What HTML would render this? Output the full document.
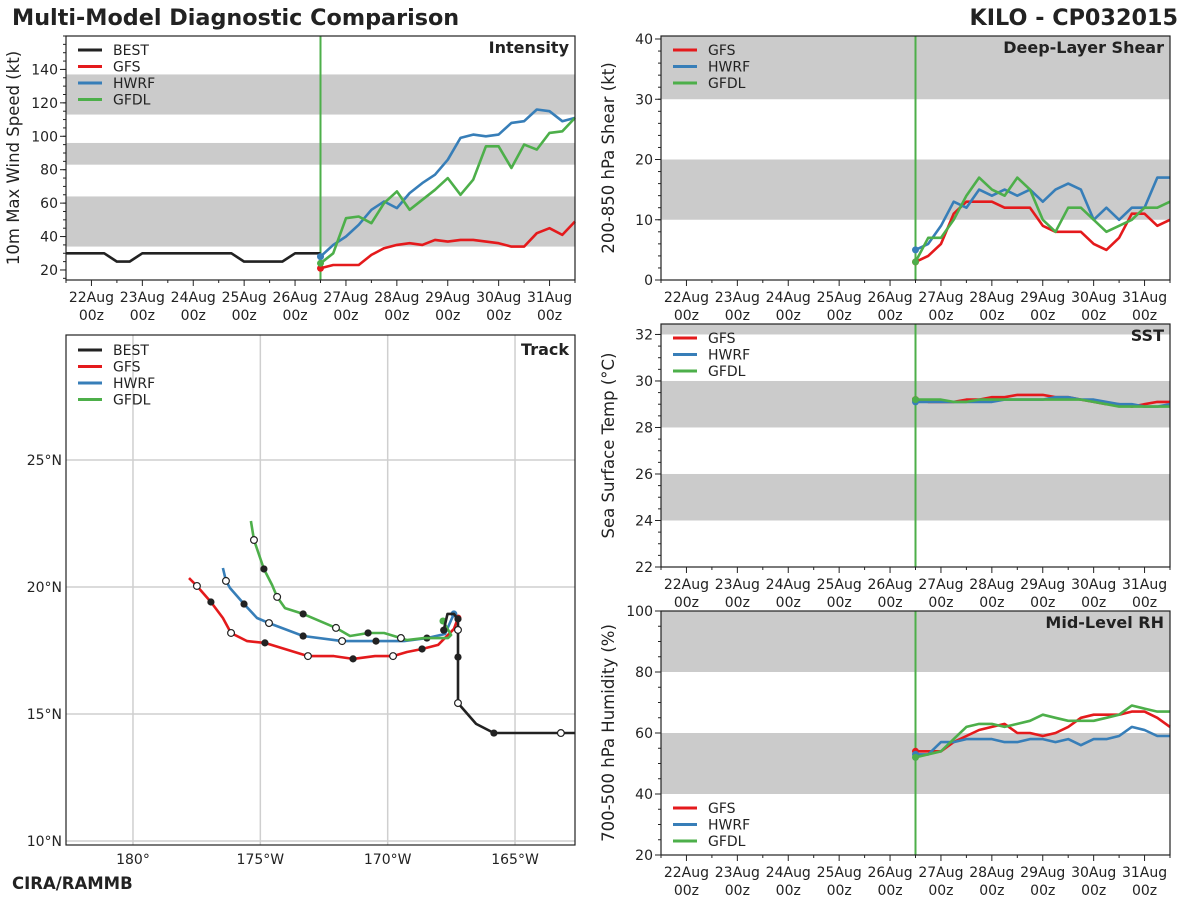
<!DOCTYPE html>
<html><head><meta charset="utf-8">
<style>
html,body{margin:0;padding:0;background:#fff;}
body{width:1200px;height:900px;overflow:hidden;font-family:"DejaVu Sans","Liberation Sans",sans-serif;}
svg text{font-family:"DejaVu Sans","Liberation Sans",sans-serif;}
</style></head>
<body>
<svg id="fig" width="1200" height="900" viewBox="0 0 1200 900" xmlns="http://www.w3.org/2000/svg">
<text x="12" y="25" font-size="22.3" font-weight="bold" fill="#222">Multi-Model Diagnostic Comparison</text>
<text x="1178" y="25" font-size="22.3" font-weight="bold" fill="#222" text-anchor="end">KILO - CP032015</text>
<text x="12" y="889" font-size="16.5" font-weight="bold" fill="#222">CIRA/RAMMB</text>
</svg>
<script>
// ---- data ----
const bestTimes = [21.5,21.75,22,22.25,22.5,22.75,23,23.25,23.5,23.75,24,24.25,24.5,24.75,25,25.25,25.5,25.75,26,26.25,26.5];
const bestVmax = [30,30,30,30,25,25,30,30,30,30,30,30,30,30,25,25,25,25,30,30,30];
const fcstTimes = [26.5,26.75,27,27.25,27.5,27.75,28,28.25,28.5,28.75,29,29.25,29.5,29.75,30,30.25,30.5,30.75,31,31.25,31.5];
const gfsVmax = [21,23,23,23,29,33,35,36,35,38,37,38,38,37,36,34,34,42,45,41,49];
const hwrfVmax = [28,35,40,47,56,61,57,66,72,77,86,99,101,100,101,108,109,116,115,109,111];
const gfdlVmax = [24,30,51,52,48,60,67,56,62,68,75,65,74,94,94,81,95,92,102,103,111];
const gfsShear = [3,4,6,11,13,13,13,12,12,12,9,8,8,8,6,5,7,11,11,9,10];
const hwrfShear = [5,6,9,13,12,15,14,15,14,15,13,15,16,15,10,12,10,12,12,17,17];
const gfdlShear = [3,7,7,10,14,17,15,14,17,15,10,8,12,12,10,8,9,10,12,12,13];
const gfsSst = [29.2,29.1,29.1,29.1,29.2,29.2,29.3,29.3,29.4,29.4,29.4,29.3,29.3,29.2,29.1,29.0,29.0,28.9,29.0,29.1,29.1];
const hwrfSst = [29.1,29.1,29.1,29.1,29.1,29.1,29.1,29.2,29.2,29.2,29.2,29.3,29.3,29.2,29.2,29.1,29.0,29.0,28.9,28.9,29.0];
const gfdlSst = [29.2,29.2,29.2,29.1,29.1,29.2,29.2,29.2,29.2,29.2,29.2,29.2,29.2,29.2,29.1,29.0,28.9,28.9,28.9,28.9,28.9];
const gfsRh = [54,54,54,57,59,61,62,63,60,60,59,60,62,65,66,66,66,67,67,65,62];
const hwrfRh = [53,53,57,57,58,58,58,57,57,58,58,57,58,56,58,58,59,62,61,59,59];
const gfdlRh = [52,53,54,58,62,63,63,62,63,64,66,65,64,64,64,65,66,69,68,67,67];
const dayTicks = [22,23,24,25,26,27,28,29,30,31];
const dayLabels = ["22Aug","23Aug","24Aug","25Aug","26Aug","27Aug","28Aug","29Aug","30Aug","31Aug"];
// track (degrees W, degrees N)
const bestLon = [162.65,163.2,165.83,166.53,167.24,167.24,167.24,167.24,167.4,167.65,167.8];
const bestLat = [14.25,14.25,14.25,14.61,15.43,17.24,18.31,18.74,18.94,18.94,18.3];
const gfsLon = [167.24,167.40,168.02,168.65,169.24,169.79,170.50,171.36,172.11,173.13,174.82,175.52,176.15,176.47,176.94,177.49,177.80];
const gfsLat = [18.78,18.35,17.72,17.56,17.44,17.28,17.28,17.17,17.28,17.28,17.80,17.87,18.19,18.78,19.41,20.04,20.35];
const hwrfLon = [167.40,167.75,168.46,169.36,170.46,171.79,173.32,174.66,175.13,175.64,176.19,176.35,176.47];
const hwrfLat = [18.94,18.15,17.99,17.87,17.87,17.87,18.07,18.58,18.78,19.33,19.96,20.24,20.75];
const gfdlLon = [167.83,167.51,167.63,168.57,169.24,169.48,170.14,170.77,171.48,172.03,173.32,174.03,174.34,174.54,174.86,175.25,175.37];
const gfdlLat = [18.66,18.11,17.99,17.99,17.91,17.99,18.19,18.19,18.07,18.39,18.94,19.17,19.61,20.08,20.71,21.85,22.60];
const lonTicks = [180,175,170,165];
const lonLabels = ["180°","175°W","170°W","165°W"];
const latTicks = [10,15,20,25];
const latLabels = ["10°N","15°N","20°N","25°N"];

const NS="http://www.w3.org/2000/svg";
const svg=document.getElementById('fig');
const C={best:"#222222",gfs:"#e41a1c",hwrf:"#377eb8",gfdl:"#4daf4a"};
function mk(tag,attrs,parent){const e=document.createElementNS(NS,tag);for(const k in attrs)e.setAttribute(k,attrs[k]);(parent||svg).appendChild(e);return e;}

function timePanel(o){
  const g=mk('g',{});
  
  
  const X=t=>o.x0+(t-21.5)/10*(o.x1-o.x0);
  const Y=v=>o.y1-(v-o.ymin)/(o.ymax-o.ymin)*(o.y1-o.y0);
  o.bands.forEach(b=>{const r=mk('rect',{x:o.x0,y:Y(Math.min(b[1],o.ymax)),width:o.x1-o.x0,height:Y(b[0])-Y(Math.min(b[1],o.ymax)),fill:"#cbcbcb"},g);
    });
  for(let t=21.5;t<=31.51;t+=0.5){const maj=Math.abs(t-Math.round(t))<1e-6;
    mk('line',{x1:X(t),x2:X(t),y1:o.y1,y2:o.y1+(maj?6:3),stroke:"#222","stroke-width":1},g);}
  dayTicks.forEach((d,i)=>{
    const t1=mk('text',{x:X(d),y:o.y1+22,"font-size":14,"text-anchor":"middle",fill:"#222"},g);t1.textContent=dayLabels[i];
    
    const t2=mk('text',{x:X(d),y:o.y1+40,"font-size":14,"text-anchor":"middle",fill:"#222"},g);t2.textContent="00z";
    });
  for(let v=Math.ceil(o.ymin/o.minor)*o.minor;v<=o.ymax+1e-6;v+=o.minor){
    mk('line',{x1:o.x0-3,x2:o.x0,y1:Y(v),y2:Y(v),stroke:"#222"},g);}
  o.yticks.forEach(v=>{mk('line',{x1:o.x0-6,x2:o.x0,y1:Y(v),y2:Y(v),stroke:"#222"},g);
    const t=mk('text',{x:o.x0-8,y:Y(v)+5,"font-size":14,"text-anchor":"end",fill:"#222"},g);t.textContent=v;
    });
  const yl=mk('text',{x:0,y:0,"font-size":16.5,"text-anchor":"middle",fill:"#222",transform:`translate(${o.x0-47},${(o.y0+o.y1)/2}) rotate(-90)`},g);
  yl.textContent=o.ylabel;
  mk('line',{x1:X(26.5),x2:X(26.5),y1:o.y0,y2:o.y1,stroke:C.gfdl,"stroke-width":2},g);
  o.series.forEach(s=>{
    const pts=s.v.map((v,i)=>X(s.t[i]).toFixed(1)+","+Y(v).toFixed(1)).join(" ");
    const p=mk('polyline',{points:pts,fill:"none",stroke:s.c,"stroke-width":2.6,"stroke-linejoin":"round"},g);
    
    if(s.dot){mk('circle',{cx:X(s.t[0]),cy:Y(s.v[0]),r:3.5,fill:s.c},g);}
  });
  mk('rect',{x:o.x0,y:o.y0,width:o.x1-o.x0,height:o.y1-o.y0,fill:"none",stroke:"#222","stroke-width":1.2},g);
  const tt=mk('text',{x:o.x1-6,y:o.y0+17,"font-size":16,"font-weight":"bold","text-anchor":"end",fill:"#222"},g);
  tt.textContent=o.title;
  legend(g,o.lx,o.ly,o.leg);
}
function legend(g,x,y,items){
  const lg=mk('g',{},g);
  
  items.forEach((it,i)=>{const yy=y+i*16.5;
    mk('line',{x1:x,x2:x+24,y1:yy,y2:yy,stroke:it[1],"stroke-width":3},lg);
    const t=mk('text',{x:x+35,y:yy+5,"font-size":14,fill:"#222"},lg);t.textContent=it[0];
    });
}
const L4=[["BEST",C.best],["GFS",C.gfs],["HWRF",C.hwrf],["GFDL",C.gfdl]];
const L3=[["GFS",C.gfs],["HWRF",C.hwrf],["GFDL",C.gfdl]];
function S3(a,b,c){return [{n:'gfs',t:fcstTimes,v:a,c:C.gfs,dot:1},{n:'hwrf',t:fcstTimes,v:b,c:C.hwrf,dot:1},{n:'gfdl',t:fcstTimes,v:c,c:C.gfdl,dot:1}];}

timePanel({name:'intensity-panel',x0:66,x1:575,y0:36,y1:280,ymin:14,ymax:160,minor:5,yticks:[20,40,60,80,100,120,140],
  bands:[[34,64],[83,96],[113,137]],ylabel:"10m Max Wind Speed (kt)",title:"Intensity",lx:78,ly:50,leg:L4,
  series:[{n:'best',t:bestTimes,v:bestVmax,c:C.best}].concat(S3(gfsVmax,hwrfVmax,gfdlVmax))});
timePanel({name:'shear-panel',x0:661,x1:1170,y0:36,y1:280,ymin:0,ymax:40.5,minor:2,yticks:[0,10,20,30,40],
  bands:[[10,20],[30,40.5]],ylabel:"200-850 hPa Shear (kt)",title:"Deep-Layer Shear",lx:673,ly:50,leg:L3,
  series:S3(gfsShear,hwrfShear,gfdlShear)});
timePanel({name:'sst-panel',x0:661,x1:1170,y0:324,y1:567,ymin:22,ymax:32.45,minor:0.5,yticks:[22,24,26,28,30,32],
  bands:[[24,26],[28,30],[32,32.45]],ylabel:"Sea Surface Temp (°C)",title:"SST",lx:673,ly:338,leg:L3,
  series:S3(gfsSst,hwrfSst,gfdlSst)});
timePanel({name:'rh-panel',x0:661,x1:1170,y0:611,y1:855,ymin:20,ymax:100,minor:5,yticks:[20,40,60,80,100],
  bands:[[40,60],[80,100]],ylabel:"700-500 hPa Humidity (%)",title:"Mid-Level RH",lx:673,ly:808,leg:L3,
  series:S3(gfsRh,hwrfRh,gfdlRh)});

(function(){
  const x0=66,x1=575,y0=335,y1=845;
  const g=mk('g',{});
  
  
  const X=lw=>x0+(182.63-lw)*25.47;
  const Y=la=>841-(la-10)*25.4;
  lonTicks.forEach((l,i)=>{mk('line',{x1:X(l),x2:X(l),y1:y0,y2:y1,stroke:"#cfcfcf","stroke-width":1.5},g);
    const t=mk('text',{x:X(l),y:y1+19,"font-size":14,"text-anchor":"middle",fill:"#222"},g);t.textContent=lonLabels[i];
    });
  latTicks.forEach((l,i)=>{mk('line',{x1:x0,x2:x1,y1:Y(l),y2:Y(l),stroke:"#cfcfcf","stroke-width":1.5},g);
    const t=mk('text',{x:x0-4,y:Y(l)+5,"font-size":14,"text-anchor":"end",fill:"#222"},g);t.textContent=latLabels[i];
    });
  const tr=[
    {n:'gfs',lo:gfsLon,la:gfsLat,c:C.gfs,open:[5,9,12,15],fill:[3,7,10,14]},
    {n:'hwrf',lo:hwrfLon,la:hwrfLat,c:C.hwrf,open:[5,7,11],fill:[2,4,6,9]},
    {n:'gfdl',lo:gfdlLon,la:gfdlLat,c:C.gfdl,open:[5,9,12,15],fill:[7,10,14]},
    {n:'best',lo:bestLon,la:bestLat,c:C.best,open:[1,4,6],fill:[2,5,7,10]}];
  tr.forEach(s=>{
    const pts=s.lo.map((v,i)=>X(v).toFixed(1)+","+Y(s.la[i]).toFixed(1)).join(" ");
    const p=mk('polyline',{points:pts,fill:"none",stroke:s.c,"stroke-width":2.6,"stroke-linejoin":"round"},g);
    
    if(s.n!=='best')mk('circle',{cx:X(s.lo[0]),cy:Y(s.la[0]),r:3.5,fill:s.c},g);
    s.fill.forEach(i=>mk('circle',{cx:X(s.lo[i]),cy:Y(s.la[i]),r:3.6,fill:"#222"},g));
    s.open.forEach(i=>mk('circle',{cx:X(s.lo[i]),cy:Y(s.la[i]),r:3.4,fill:"#fff",stroke:"#222","stroke-width":1.2},g));
  });
  mk('rect',{x:x0,y:y0,width:x1-x0,height:y1-y0,fill:"none",stroke:"#222","stroke-width":1.2},g);
  const tt=mk('text',{x:x1-6,y:y0+20,"font-size":16,"font-weight":"bold","text-anchor":"end",fill:"#222"},g);
  tt.textContent="Track";
  legend(g,78,350,L4);
})();
</script>
</body></html>
